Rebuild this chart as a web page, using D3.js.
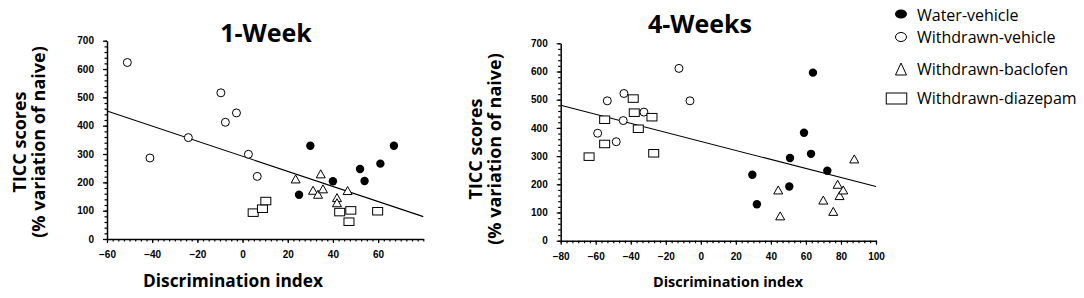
<!DOCTYPE html>
<html lang="en">
<head>
<meta charset="UTF-8">
<title>TICC scores vs Discrimination index</title>
<script src="https://d3js.org/d3.v7.min.js"></script>
<style>
  body { margin: 0; background: #fff; }
  .tick text { font-family: "Liberation Sans", Arial, sans-serif; font-size: 10px; font-weight: bold; fill: #000; }
  .title { font-family: "Open Sans", sans-serif; font-size: 25px; font-weight: bold; }
  .axis-label { font-family: "Open Sans", sans-serif; font-weight: bold; }
  .legend text { font-family: "Open Sans", sans-serif; font-size: 16px; }
</style>
</head>
<body>
<svg id="chart"></svg>
<script>
// series values [discrimination index, TICC score]
const w1WaterVehicle = [[25, 156], [30, 329], [40, 204], [52, 247], [54, 205], [61, 266], [67, 329]];
const w1WithdrawnVehicle = [[-51, 623], [-41, 286], [-24, 358], [-9.6, 516], [-7.6, 412], [-2.7, 445], [2.6, 299], [6.5, 221]];
const w1Baclofen = [[23.5, 212], [34.6, 230], [31.2, 172], [33.4, 158], [35.6, 177], [41.8, 146], [41.8, 128], [46.5, 171]];
const w1Diazepam = [[4.7, 93], [8.8, 107], [10.3, 134], [43, 95], [47.9, 101], [47.1, 61], [59.8, 98]];
const w1Fit = [[-60, 452], [80, 79]];

const w4WaterVehicle = [[29.4, 234], [32, 129], [50.5, 192], [50.9, 293], [58.9, 383], [62.9, 308], [64, 596], [72.2, 248]];
const w4WithdrawnVehicle = [[-53.4, 496], [-43.9, 522], [-58.9, 381], [-48.3, 351], [-44.3, 426], [-32.5, 456], [-12.5, 611], [-6.2, 496]];
const w4Baclofen = [[44.2, 180], [45.3, 88], [69.9, 144], [75.6, 104], [78.1, 200], [79.2, 160], [81.3, 180], [87.6, 290]];
const w4Diazepam = [[-63.8, 298], [-54.9, 429], [-54.9, 343], [-38.6, 504], [-38, 454], [-35.7, 397], [-27.9, 438], [-26.9, 310]];
const w4Fit = [[-80, 480], [100, 192]];

const groupNames = ["Water-vehicle", "Withdrawn-vehicle", "Withdrawn-baclofen", "Withdrawn-diazepam"];
const yTicks = [0, 100, 200, 300, 400, 500, 600, 700];
const w1XTicks = [-60, -40, -20, 0, 20, 40, 60];
const w4XTicks = [-80, -60, -40, -20, 0, 20, 40, 60, 80, 100];

const svg = d3.select("#chart").attr("width", 1084).attr("height", 298);

// marker drawing by group index
function marker(sel, g, w, h) {
    if (g === 0) {
        sel.append("circle").attr("r", 4.2).attr("fill", "#000");
    } else if (g === 1) {
        sel.append("circle").attr("r", 4).attr("fill", "#fff").attr("stroke", "#000").attr("stroke-width", 1);
    } else if (g === 2) {
        sel.append("path").attr("d", `M0,${-h / 2}L${w / 2},${h / 2}L${-w / 2},${h / 2}Z`)
            .attr("fill", "#fff").attr("stroke", "#000").attr("stroke-width", 1);
    } else {
        sel.append("rect").attr("x", -w / 2).attr("y", -h / 2).attr("width", w).attr("height", h)
            .attr("fill", "#fff").attr("stroke", "#000").attr("stroke-width", 1);
    }
}

function drawPanel(p) {
    const x = d3.scaleLinear().domain(p.xDomain).range(p.xRange);
    const y = d3.scaleLinear().domain([0, 700]).range(p.yRange);
    const g = svg.append("g");

    // minor ticks
    g.append("g").attr("transform", `translate(0,${p.yRange[0]})`)
        .call(d3.axisBottom(x).tickValues(d3.range(p.xDomain[0], p.xDomain[1] + 0.01, p.xMinor)).tickSize(2.5).tickFormat(""))
        .call(a => a.select(".domain").remove());
    g.append("g").attr("transform", `translate(${p.xRange[0]},0)`)
        .call(d3.axisLeft(y).tickValues(d3.range(0, 701, 20)).tickSize(2.5).tickFormat(""))
        .call(a => a.select(".domain").remove());

    // major axes
    g.append("g").attr("transform", `translate(0,${p.yRange[0]})`)
        .call(d3.axisBottom(x).tickValues(p.xTicks).tickSize(4).tickPadding(8).tickSizeOuter(0))
        .call(a => a.select(".domain").attr("stroke-width", 1.5));
    g.append("g").attr("transform", `translate(${p.xRange[0]},0)`)
        .call(d3.axisLeft(y).tickValues(yTicks).tickSize(4).tickPadding(9).tickSizeOuter(0))
        .call(a => a.select(".domain").attr("stroke-width", 1.5));
    g.selectAll(".tick line").attr("stroke", "#000").attr("stroke-width", 1.2);

    // regression line
    g.append("path").datum(p.fit)
        .attr("d", d3.line().x(d => x(d[0])).y(d => y(d[1])))
        .attr("fill", "none").attr("stroke", "#000").attr("stroke-width", 1.1);

    // points
    p.groups.forEach((data, gi) => {
        g.selectAll(null).data(data).enter().append("g")
            .attr("transform", d => `translate(${x(d[0])},${y(d[1])})`)
            .each(function () { marker(d3.select(this), gi, gi === 2 ? 9 : 10, gi === 2 ? 8 : 7.5); });
    });

    // titles and labels
    g.append("text").attr("class", "title").attr("x", p.titleX).attr("y", p.titleY)
        .attr("text-anchor", "middle").text(p.title);
    g.append("text").attr("class", "axis-label").attr("x", p.xLabelX).attr("y", 287)
        .attr("text-anchor", "middle").style("font-size", p.xLabelSize + "px")
        .attr("textLength", p.xLabelLen).attr("lengthAdjust", "spacingAndGlyphs")
        .text("Discrimination index");
    const yl = g.append("text").attr("class", "axis-label").attr("text-anchor", "middle")
        .attr("transform", `translate(${p.yLabelX},${p.yLabelY}) rotate(-90)`)
        .style("font-size", p.yLabelSize + "px");
    yl.append("tspan").attr("x", 0).attr("y", 0).text("TICC scores");
    yl.append("tspan").attr("x", 0).attr("y", p.yLabelGap).text("(% variation of naive)");
}

drawPanel({
    xDomain: [-60, 80], xRange: [107, 423.3], yRange: [239, 40.7], xTicks: w1XTicks, xMinor: 2.5,
    fit: w1Fit, groups: [w1WaterVehicle, w1WithdrawnVehicle, w1Baclofen, w1Diazepam],
    title: "1-Week", titleX: 266, titleY: 41.5,
    xLabelX: 233, xLabelSize: 17, xLabelLen: 180,
    yLabelX: 26, yLabelY: 142, yLabelSize: 18, yLabelGap: 19
});

drawPanel({
    xDomain: [-80, 100], xRange: [560.7, 876], yRange: [240.7, 43.3], xTicks: w4XTicks, xMinor: 20 / 6,
    fit: w4Fit, groups: [w4WaterVehicle, w4WithdrawnVehicle, w4Baclofen, w4Diazepam],
    title: "4-Weeks", titleX: 700, titleY: 33,
    xLabelX: 728, xLabelSize: 15, xLabelLen: 150,
    yLabelX: 482, yLabelY: 149, yLabelSize: 18, yLabelGap: 19
});

// legend
const legendY = [14, 37, 69, 98.5];
const legendBase = [21, 42.5, 75, 104];
const legend = svg.append("g").attr("class", "legend");
groupNames.forEach((name, i) => {
    const m = legend.append("g").attr("transform", `translate(${i === 3 ? 896.5 : 901},${legendY[i]})`);
    if (i === 0) m.append("ellipse").attr("rx", 6).attr("ry", 4.6).attr("fill", "#000");
    else if (i === 1) m.append("ellipse").attr("rx", 5.5).attr("ry", 4.5).attr("fill", "#fff").attr("stroke", "#000");
    else marker(m, i, i === 2 ? 11 : 20.5, i === 2 ? 12 : 11);
    legend.append("text").attr("x", 917).attr("y", legendBase[i]).text(name);
});
</script>
</body>
</html>
